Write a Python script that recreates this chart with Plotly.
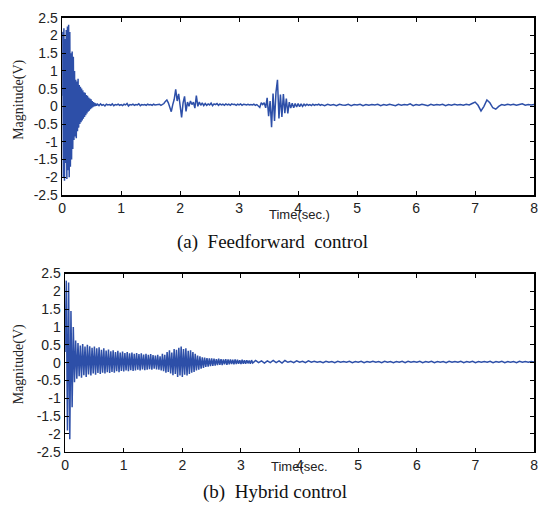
import numpy as np
import plotly.graph_objects as go

# ---------------- data ----------------
# (a) Feedforward control: three sampled segments
ff_a_start, ff_a_dt = 0.0, 0.01
ff_a_vals = [
    0.3, 2.1, -2.0, 2.2, -2.1, 1.9, -1.6, 2.15, -2.05, 2.25,
    -1.8, 2.3, -2.0, 2.1, -1.7, 1.5, -1.5, 1.55, -1.2, 1.4,
    -0.95, 1.0, -0.85, 0.75, -0.9, 0.7, -0.7, 0.78, -0.6, 0.6,
    -0.5, 0.55, -0.45, 0.5, -0.4, 0.45, -0.35, 0.4, -0.3, 0.38,
    -0.25, 0.32, -0.2, 0.3, -0.15, 0.25, -0.12, 0.22, -0.08, 0.2,
    -0.05, 0.15, -0.02, 0.12, 0.0, 0.1, 0.01, 0.08, 0.02, 0.06,
]
ff_b_start, ff_b_dt = 0.6, 0.025
ff_b_vals = [
    0.06, 0.02, 0.07, 0.03, 0.05, 0.01, 0.06, 0.04,
    0.05, 0.03, 0.07, 0.02, 0.05, 0.04, 0.06, 0.03,
    0.05, 0.02, 0.06, 0.04, 0.08, 0.01, 0.05, 0.04,
    0.06, 0.03, 0.05, 0.04, 0.07, 0.02, 0.05, 0.04,
    0.05, 0.03, 0.06, 0.04, 0.05, 0.03, 0.06, 0.04,
    0.05, 0.04, 0.06, 0.03, 0.05, 0.08, 0.14, 0.18,
    0.10, -0.05, -0.15, 0.05, 0.20, 0.48, 0.15, 0.35,
    0.05, -0.31, 0.10, 0.28, -0.14, 0.12, 0.00, 0.15,
    0.05, 0.12, -0.05, 0.30, 0.00, 0.12, 0.03, 0.10,
    0.02, 0.08, 0.03, 0.07, 0.04, 0.09, 0.02, 0.07,
    0.05, 0.08, 0.03, 0.07, 0.04, 0.06, 0.03, 0.07,
    0.04, 0.06, 0.03, 0.07, 0.05, 0.06, 0.03, 0.06,
    0.04, 0.07, 0.03, 0.06, 0.05, 0.04, 0.06, 0.04,
    0.05, 0.04, 0.06, 0.03, 0.05, 0.02, -0.03, 0.10,
    0.05, 0.10, -0.04, 0.24, -0.28, 0.15, -0.59, 0.36,
    -0.41, 0.40, 0.75, -0.34, 0.33, -0.30, 0.35, -0.19,
    0.22, -0.20, 0.12, -0.05, 0.09, -0.04, 0.08, -0.02,
    0.08, -0.01, 0.07, 0.00, 0.06, 0.02, 0.06, 0.03,
    0.05, 0.02, 0.06, 0.03, 0.05, 0.04, 0.06, 0.03,
]
ff_c_start, ff_c_dt = 4.4, 0.05
ff_c_vals = [
    0.05, 0.02, 0.06, 0.03, 0.05, 0.02, 0.06, 0.04,
    0.03, 0.06, 0.02, 0.05, 0.04, 0.06, 0.02, 0.05,
    0.03, 0.05, 0.04, 0.06, 0.02, 0.05, 0.03, 0.06,
    0.04, 0.02, 0.06, 0.03, 0.05, 0.04, 0.07, 0.02,
    0.05, 0.03, 0.06, 0.04, 0.02, 0.06, 0.03, 0.05,
    0.04, 0.06, 0.02, 0.05, 0.03, 0.06, 0.04, 0.05,
    0.03, 0.06, 0.04, 0.08, 0.12, 0.03, -0.13, 0.00,
    0.18, 0.10, -0.04, -0.08, 0.00, 0.05, 0.03, 0.06,
    0.04, 0.06, 0.03, 0.05, 0.07, 0.03, 0.05, 0.04,
    0.05,
]

# (b) Hybrid control: two sampled segments
hy_a_start, hy_a_dt = 0.0, 0.02
hy_a_vals = [
    0.3, 2.3, -1.9, 2.25, -2.15, 1.45, -1.25, 1.0, -0.55, 0.62,
    -0.45, 0.55, -0.38, 0.48, -0.42, 0.52, -0.35, 0.45, -0.4, 0.5,
    -0.33, 0.46, -0.36, 0.42, -0.3, 0.45, -0.34, 0.4, -0.29, 0.43,
    -0.32, 0.36, -0.28, 0.4, -0.3, 0.34, -0.27, 0.37, -0.29, 0.32,
    -0.26, 0.35, -0.28, 0.3, -0.24, 0.33, -0.27, 0.28, -0.23, 0.31,
    -0.25, 0.27, -0.22, 0.3, -0.24, 0.26, -0.21, 0.28, -0.23, 0.25,
    -0.22, 0.27, -0.2, 0.24, -0.22, 0.26, -0.19, 0.23, -0.21, 0.25,
    -0.2, 0.22, -0.18, 0.24, -0.2, 0.21, -0.17, 0.2, -0.19, 0.22,
    -0.2, 0.18, -0.22, 0.25, -0.24, 0.22, -0.28, 0.3, -0.26, 0.35,
    -0.3, 0.28, -0.35, 0.38, -0.32, 0.36, -0.4, 0.42, -0.36, 0.45,
    -0.4, 0.38, -0.34, 0.4, -0.36, 0.33, -0.32, 0.35, -0.28, 0.3,
    -0.26, 0.25, -0.22, 0.2, -0.2, 0.18, -0.17, 0.15, -0.15, 0.14,
    -0.12, 0.13, -0.11, 0.12, -0.1, 0.12, -0.09, 0.11, -0.08, 0.1,
    -0.07, 0.11, -0.06, 0.1, -0.07, 0.09, -0.05, 0.1, -0.06, 0.09,
    -0.05, 0.09, -0.04, 0.08, -0.05, 0.09, -0.04, 0.08, -0.03, 0.07,
    -0.04, 0.08, -0.03, 0.07, -0.03, 0.07, -0.02, 0.06, -0.03, 0.07,
]
hy_b_start, hy_b_dt = 3.2, 0.05
hy_b_vals = [
    -0.01, 0.06, 0.0, 0.05, -0.01, 0.05, 0.0, 0.06,
    0.0, 0.05, -0.01, 0.06, 0.01, 0.04, 0.0, 0.05,
    0.01, 0.04, 0.0, 0.05, 0.01, 0.04, 0.01, 0.03,
    0.0, 0.04, 0.01, 0.03, 0.0, 0.04, 0.01, 0.03,
    0.01, 0.04, 0.0, 0.03, 0.01, 0.04, 0.0, 0.03,
    0.01, 0.04, 0.01, 0.03, 0.0, 0.04, 0.01, 0.03,
    0.0, 0.03, 0.01, 0.04, 0.0, 0.04, 0.01, 0.03,
    0.01, 0.04, 0.0, 0.03, 0.01, 0.04, 0.0, 0.03,
    0.01, 0.03, 0.0, 0.04, 0.01, 0.03, 0.01, 0.04,
    0.0, 0.03, 0.01, 0.04, 0.0, 0.03, 0.01, 0.03,
    0.01, 0.04, 0.0, 0.03, 0.01, 0.04, 0.0, 0.03,
    0.01, 0.03, 0.0, 0.04, 0.01, 0.03, 0.01, 0.03,
    0.02,
]

x_ticks = [0, 1, 2, 3, 4, 5, 6, 7, 8]
y_ticks = [-2.5, -2, -1.5, -1, -0.5, 0, 0.5, 1, 1.5, 2, 2.5]
y_tick_text = ["-2.5", "-2", "-1.5", "-1", "-0.5", "0", "0.5", "1", "1.5", "2", "2.5"]
captions = ["(a)  Feedforward  control", "(b)  Hybrid control"]
y_title = "Magnitude(V)"
x_titles = ["Time(sec.)", "Time(sec."]


def build(segments):
    t_all, v_all = [], []
    for start, dt, vals in segments:
        t_all.append(start + dt * np.arange(len(vals)))
        v_all.append(np.array(vals, dtype=float))
    return np.concatenate(t_all), np.concatenate(v_all)


t_ff, v_ff = build([(ff_a_start, ff_a_dt, ff_a_vals),
                    (ff_b_start, ff_b_dt, ff_b_vals),
                    (ff_c_start, ff_c_dt, ff_c_vals)])
t_hy, v_hy = build([(hy_a_start, hy_a_dt, hy_a_vals),
                    (hy_b_start, hy_b_dt, hy_b_vals)])

# ---------------- figure ----------------
W, H = 545, 516
LINE = "#2d4fa8"

fig = go.Figure()
fig.add_trace(go.Scatter(x=t_ff, y=v_ff, mode="lines",
                         line=dict(color=LINE, width=1.5),
                         xaxis="x", yaxis="y", showlegend=False, hoverinfo="skip"))
fig.add_trace(go.Scatter(x=t_hy, y=v_hy, mode="lines",
                         line=dict(color=LINE, width=1.5),
                         xaxis="x2", yaxis="y2", showlegend=False, hoverinfo="skip"))


def px_x(p):
    return p / W


def px_y(p):
    return 1 - p / H


tickfont = dict(family="Liberation Sans, Arial, sans-serif", size=14, color="#222")
common_x = dict(range=[0, 8], tickvals=x_ticks, ticks="inside", ticklen=4,
                tickcolor="#000", showline=True, linecolor="#000", linewidth=1.5,
                mirror="ticks", showgrid=False, zeroline=False, tickfont=tickfont)
common_y = dict(range=[-2.5, 2.5], tickvals=y_ticks, ticktext=y_tick_text,
                ticks="inside", ticklen=4, tickcolor="#000", showline=True,
                linecolor="#000", linewidth=1.5, mirror="ticks", showgrid=False,
                zeroline=False, tickfont=tickfont)

fig.update_layout(
    width=W, height=H,
    margin=dict(l=0, r=0, t=0, b=0),
    paper_bgcolor="white", plot_bgcolor="white",
    xaxis=dict(domain=[px_x(59), px_x(538)], anchor="y", **common_x),
    yaxis=dict(domain=[px_y(193), px_y(10)], anchor="x", **common_y),
    xaxis2=dict(domain=[px_x(62), px_x(538)], anchor="y2", **common_x),
    yaxis2=dict(domain=[px_y(458), px_y(274)], anchor="x2", **common_y),
)

serif = "Liberation Serif, Times New Roman, serif"
sans = "Liberation Sans, Arial, sans-serif"


def label(xp, yp, text, font, angle=0):
    return dict(x=px_x(xp), y=px_y(yp), xref="paper", yref="paper", text=text,
                textangle=angle, showarrow=False, xanchor="center",
                yanchor="middle", font=font)


ann = [
    label(15, 95, y_title, dict(family=serif, size=14, color="#222"), -90),
    label(15, 368, y_title, dict(family=serif, size=14, color="#222"), -90),
    label(300, 213, x_titles[0], dict(family=sans, size=13, color="#222")),
    label(300, 473, x_titles[1], dict(family=sans, size=13, color="#222")),
    label(272, 241, captions[0], dict(family=serif, size=19, color="#111")),
    label(275, 500, captions[1], dict(family=serif, size=19, color="#111")),
]
fig.update_layout(annotations=ann)

fig.write_html(
    "out.html",
    config={"displayModeBar": False, "staticPlot": True},
    post_script="document.body.style.margin='0';document.body.style.overflow='hidden';",
)
